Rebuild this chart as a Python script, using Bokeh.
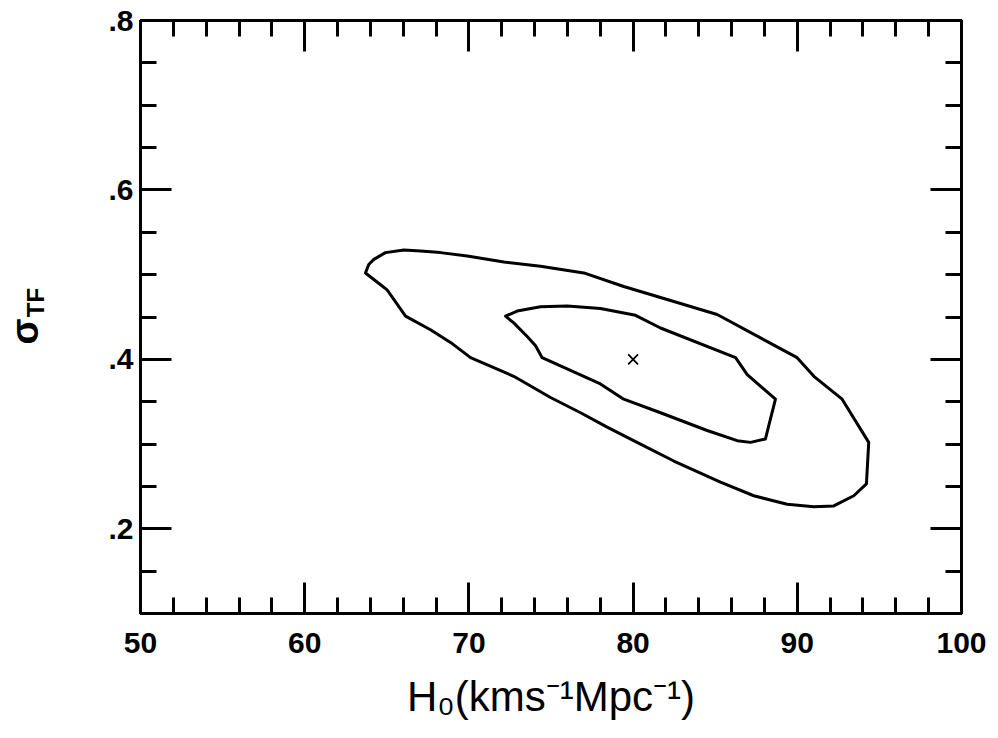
from bokeh.plotting import figure
from bokeh.models import LinearAxis, FixedTicker, Range1d, CustomJSTickFormatter
from bokeh.embed import file_html
from bokeh.resources import INLINE

# Outer confidence contour (H0, sigma_TF)
outer_h0 = [63.70, 63.90, 64.21, 64.92, 66.04, 67.05, 68.27, 69.90, 72.13, 74.36,
            77.00, 79.43, 81.67, 85.12, 89.99, 91.01, 92.73, 94.35, 94.21, 93.44,
            92.22, 91.01, 89.38, 87.35, 85.32, 82.48, 80.45, 78.42, 76.80, 74.97,
            72.73, 70.10, 68.88, 67.66, 66.14, 65.02, 64.62]
outer_sigma = [0.502, 0.512, 0.518, 0.526, 0.529, 0.528, 0.526, 0.522, 0.515, 0.510,
               0.502, 0.486, 0.473, 0.453, 0.402, 0.380, 0.353, 0.302, 0.253, 0.239,
               0.227, 0.226, 0.229, 0.239, 0.255, 0.280, 0.300, 0.320, 0.337, 0.355,
               0.380, 0.402, 0.420, 0.435, 0.451, 0.482, 0.488]

# Inner confidence contour
inner_h0 = [72.23, 72.94, 74.36, 75.99, 78.01, 80.15, 81.67, 86.24, 86.95, 88.67,
            88.06, 87.15, 86.34, 84.51, 81.67, 79.43, 78.01, 74.46, 74.06, 73.55, 72.73]
inner_sigma = [0.451, 0.457, 0.462, 0.463, 0.460, 0.452, 0.437, 0.402, 0.382, 0.353,
               0.306, 0.302, 0.304, 0.316, 0.337, 0.353, 0.371, 0.402, 0.416, 0.427, 0.443]

# Best fit point
best_h0 = [80.0]
best_sigma = [0.40]

x_major = [50, 60, 70, 80, 90, 100]
x_minor = [52, 54, 56, 58, 62, 64, 66, 68, 72, 74, 76, 78, 82, 84, 86, 88, 92, 94, 96, 98]
y_major = [0.2, 0.4, 0.6, 0.8]
y_minor = [0.1, 0.15, 0.25, 0.3, 0.35, 0.45, 0.5, 0.55, 0.65, 0.7, 0.75]

x_title = "H\u2080(kms\u207b\u00b9Mpc\u207b\u00b9)"
y_symbol = "\u03c3"
y_sub = "TF"
# where the pieces of the y title sit along the y axis
y_symbol_pos = [0.433]
y_sub_pos = [0.467]

FONT = "Liberation Sans"

p = figure(width=990, height=736, x_range=Range1d(50, 100), y_range=Range1d(0.1, 0.8),
           output_backend="svg", toolbar_location=None,
           min_border_left=140, min_border_right=29, min_border_top=20, min_border_bottom=123)
p.grid.visible = False
p.outline_line_color = "black"
p.outline_line_width = 3
p.background_fill_color = "white"
p.border_fill_color = "white"

def style_axis(ax, ticker, show_labels):
    ax.ticker = ticker
    ax.axis_line_width = 3
    ax.axis_line_color = "black"
    ax.major_tick_in = 31
    ax.major_tick_out = 0
    ax.minor_tick_in = 16
    ax.minor_tick_out = 0
    ax.major_tick_line_width = 3
    ax.minor_tick_line_width = 3
    ax.major_tick_line_color = "black"
    ax.minor_tick_line_color = "black"
    ax.major_label_text_font = FONT
    ax.major_label_text_font_style = "bold"
    ax.major_label_text_font_size = "30px"
    ax.major_label_text_color = "black"
    if not show_labels:
        ax.formatter = CustomJSTickFormatter(code="return ''")
        ax.major_label_standoff = 0

def title_axis(ticks, text, size, standoff):
    ax = LinearAxis(ticker=FixedTicker(ticks=ticks, minor_ticks=[]))
    ax.axis_line_color = None
    ax.major_tick_line_color = None
    ax.minor_tick_line_color = None
    ax.major_tick_in = 0
    ax.major_tick_out = 0
    ax.minor_tick_in = 0
    ax.minor_tick_out = 0
    ax.formatter = CustomJSTickFormatter(code="return '%s'" % text)
    ax.major_label_orientation = "parallel"
    ax.major_label_standoff = standoff
    ax.major_label_text_font = FONT
    ax.major_label_text_font_style = "bold"
    ax.major_label_text_font_size = size
    ax.major_label_text_color = "black"
    return ax

xt = FixedTicker(ticks=x_major, minor_ticks=x_minor)
yt = FixedTicker(ticks=y_major, minor_ticks=y_minor)

bx = p.xaxis[0]
style_axis(bx, xt, True)
bx.major_label_standoff = 19
bx.axis_label = x_title
bx.axis_label_text_font = FONT
bx.axis_label_text_font_style = "normal"
bx.axis_label_text_font_size = "42px"
bx.axis_label_text_color = "black"
bx.axis_label_standoff = 17

ly = p.yaxis[0]
style_axis(ly, yt, True)
ly.major_label_standoff = 7
ly.formatter = CustomJSTickFormatter(code="return tick.toFixed(1).replace(/^0/, '')")

# y title: subscript "TF" (closer to the frame) and sigma (further out, overlapping)
p.add_layout(title_axis(y_sub_pos, y_sub, "24px", 56), "left")
p.add_layout(title_axis(y_symbol_pos, y_symbol, "38px", -27), "left")

top = LinearAxis()
style_axis(top, FixedTicker(ticks=x_major, minor_ticks=x_minor), False)
p.add_layout(top, "above")
right = LinearAxis()
style_axis(right, FixedTicker(ticks=y_major, minor_ticks=y_minor), False)
p.add_layout(right, "right")

p.patch(outer_h0, outer_sigma, fill_color=None, line_color="black", line_width=3, line_join="round")
p.patch(inner_h0, inner_sigma, fill_color=None, line_color="black", line_width=3, line_join="round")
p.scatter(best_h0, best_sigma, marker="x", size=14, line_color="black", line_width=1.8)

open("out.html", "w").write(file_html(p, INLINE))
